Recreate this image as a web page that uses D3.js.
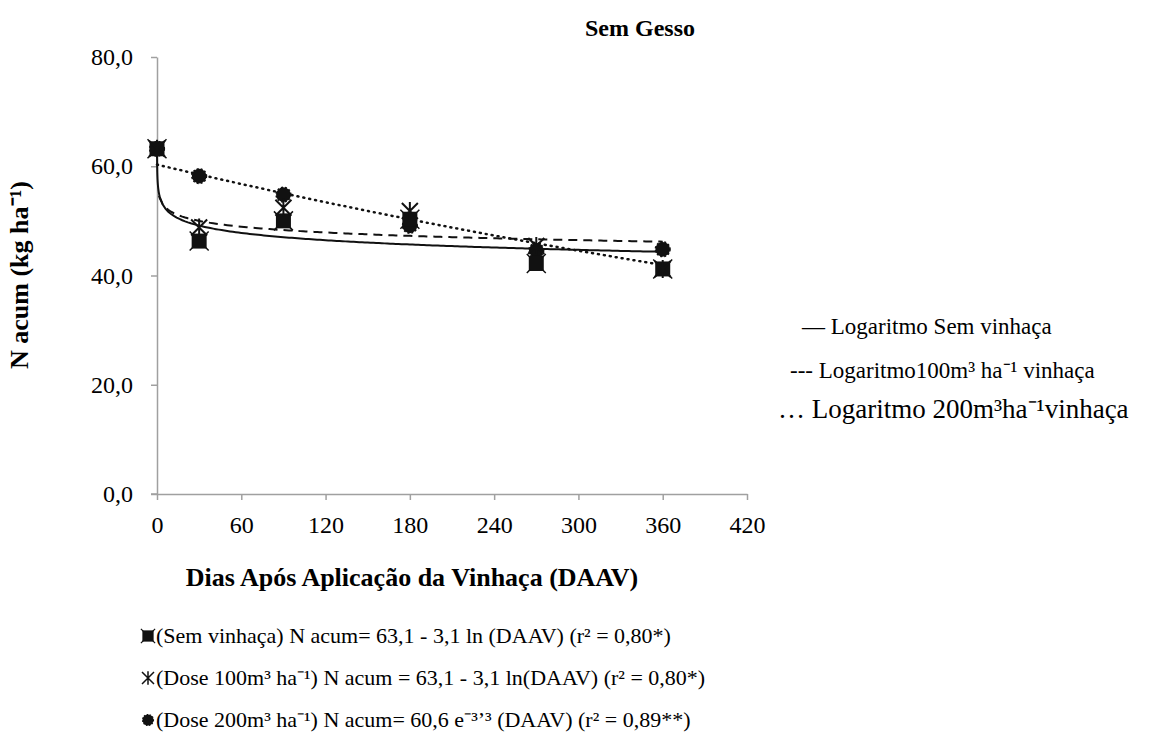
<!DOCTYPE html>
<html>
<head>
<meta charset="utf-8">
<script src="https://cdn.jsdelivr.net/npm/d3@7"></script>
<style>
  body { margin: 0; background: #fff; }
  svg text { font-family: "Liberation Serif", "Times New Roman", serif; fill: #000; }
</style>
</head>
<body>
<div id="chartArea"></div>
<script>
// data
var days = [0, 30, 90, 180, 270, 360];
var semVinhaca = [63.2, 46.3, 50.0, 50.3, 42.2, 41.2];
var dose100 = [63.2, 48.8, 52.4, 51.8, 45.4, 41.2];
var dose200 = [63.2, 58.2, 54.8, 49.1, 44.6, 44.8];

// trend coefficients: log  y = a + b ln(x), exp  y = a e^(k x)
var logSem = {a: 55.7, b: -1.93, from: 0.02};
var log100 = {a: 55.2, b: -1.53, from: 1.5};
var exp200 = {a: 60.3, k: -0.00101};

var xTicks = [0, 60, 120, 180, 240, 300, 360, 420];
var yTicks = [0, 20, 40, 60, 80];

var W = 1168, H = 737;
var margin = {left: 157, top: 57};
var w = 747 - 157, h = 494 - 57;

var svg = d3.select('#chartArea').append('svg')
    .attr('width', W)
    .attr('height', H);

var g = svg.append('g')
    .attr('transform', 'translate(' + margin.left + ',' + margin.top + ')');

var xScale = d3.scaleLinear().domain([0, 420]).range([0, w]);
var yScale = d3.scaleLinear().domain([0, 80]).range([h, 0]);

var fmt = function (d) { return d3.format('.1f')(d).replace('.', ','); };

var xAxis = g.append('g')
    .attr('transform', 'translate(0,' + h + ')')
    .call(d3.axisBottom(xScale).tickValues(xTicks).tickSize(6).tickSizeOuter(0));
var yAxis = g.append('g')
    .call(d3.axisLeft(yScale).tickValues(yTicks).tickSize(6).tickSizeOuter(0).tickFormat(fmt));

[xAxis, yAxis].forEach(function (ax) {
    ax.select('.domain').attr('stroke', '#a0a0a0').attr('stroke-width', 1.5);
    ax.selectAll('.tick line').attr('stroke', '#a0a0a0').attr('stroke-width', 1.5);
    ax.selectAll('.tick text')
        .style('font-family', '"Liberation Serif", serif')
        .style('font-size', '24px')
        .attr('fill', '#000');
});
xAxis.selectAll('.tick text').attr('y', 22).attr('dy', '0.71em');
yAxis.selectAll('.tick text').attr('x', -24);
// extend x axis a bit left of origin, like the original
xAxis.append('line').attr('x1', -6).attr('x2', 0).attr('stroke', '#a0a0a0').attr('stroke-width', 1.5);

// trendlines
function logPoints(c) {
    var xs = [c.from];
    for (var x = 0.05; x < 2; x += 0.05) if (x > c.from) xs.push(x);
    for (x = 2; x <= 360; x += 2) xs.push(x);
    return xs.map(function (x) { return [x, c.a + c.b * Math.log(x)]; });
}
function expPoints(c) {
    return d3.range(0, 362, 2).map(function (x) { return [x, c.a * Math.exp(c.k * x)]; });
}
var line = d3.line()
    .x(function (d) { return xScale(d[0]); })
    .y(function (d) { return yScale(d[1]); });

g.append('path').datum(logPoints(logSem)).attr('d', line)
    .attr('fill', 'none').attr('stroke', '#111').attr('stroke-width', 2);
g.append('path').datum(logPoints(log100)).attr('d', line)
    .attr('fill', 'none').attr('stroke', '#111').attr('stroke-width', 2)
    .attr('stroke-dasharray', '9,6');
g.append('path').datum(expPoints(exp200)).attr('d', line)
    .attr('fill', 'none').attr('stroke', '#111').attr('stroke-width', 2.5)
    .attr('stroke-dasharray', '1,5').attr('stroke-linecap', 'round');

// markers
function circleMarker(sel) {
    sel.append('path')
        .attr('d', d3.symbol().type(d3.symbolCircle).size(170))
        .attr('fill', '#111').attr('stroke', '#111').attr('stroke-width', 1.5)
        .attr('stroke-dasharray', '2,2');
}
function starMarker(sel) {
    sel.append('path')
        .attr('d', 'M-8,-8L8,8M-8,8L8,-8M0,-9L0,9')
        .attr('stroke', '#111').attr('stroke-width', 2).attr('fill', 'none');
}
function squareMarker(sel) {
    sel.append('rect').attr('x', -7.5).attr('y', -7.5).attr('width', 15).attr('height', 15)
        .attr('fill', '#111');
    sel.append('path').attr('d', 'M-9.5,-9.5L-6,-6M9.5,-9.5L6,-6M-9.5,9.5L-6,6M9.5,9.5L6,6')
        .attr('stroke', '#111').attr('stroke-width', 1.5);
}

function drawSeries(vals, marker) {
    g.append('g').selectAll('g')
        .data(days.map(function (d, i) { return [d, vals[i]]; }))
        .enter().append('g')
        .attr('transform', function (d) { return 'translate(' + xScale(d[0]) + ',' + yScale(d[1]) + ')'; })
        .call(marker);
}
drawSeries(dose200, circleMarker);
drawSeries(semVinhaca, squareMarker);
drawSeries(dose100, starMarker);

// title and axis titles
svg.append('text').attr('x', 640).attr('y', 36).attr('text-anchor', 'middle')
    .style('font-size', '24px').style('font-weight', 'bold').text('Sem Gesso');
svg.append('text').attr('x', 412).attr('y', 586).attr('text-anchor', 'middle')
    .style('font-size', '26px').style('font-weight', 'bold')
    .text('Dias Após Aplicação da Vinhaça (DAAV)');
svg.append('text').attr('transform', 'translate(28,275) rotate(-90)').attr('text-anchor', 'middle')
    .style('font-size', '26px').style('font-weight', 'bold')
    .text('N acum (kg ha⁻¹)');

// right-hand legend
var rightLegend = [
    {x: 802, y: 334, t: '— Logaritmo Sem vinhaça'},
    {x: 790, y: 378, t: '--- Logaritmo100m³ ha⁻¹ vinhaça'},
    {x: 778, y: 418, t: '… Logaritmo 200m³ha⁻¹vinhaça'}
];
svg.selectAll('.rl').data(rightLegend).enter().append('text')
    .attr('x', function (d) { return d.x; })
    .attr('y', function (d) { return d.y; })
    .style('font-size', function (d, i) { return i === 2 ? '27px' : '23px'; })
    .text(function (d) { return d.t; });

// bottom legend
var bottomLegend = [
    '(Sem vinhaça) N acum= 63,1 - 3,1 ln (DAAV) (r² = 0,80*)',
    '(Dose 100m³ ha⁻¹) N acum = 63,1 - 3,1 ln(DAAV) (r² = 0,80*)',
    '(Dose 200m³ ha⁻¹) N acum= 60,6 e⁻³’³ (DAAV) (r² = 0,89**)'
];
var bottomMarkers = [squareMarker, starMarker, circleMarker];
var bl = svg.selectAll('.bl').data(bottomLegend).enter().append('g')
    .attr('transform', function (d, i) { return 'translate(148,' + (636 + i * 42) + ')'; });
bl.append('text').attr('x', 8).attr('y', 7).style('font-size', '22px')
    .text(function (d) { return d; });
bl.each(function (d, i) {
    var m = d3.select(this).append('g').attr('transform', 'scale(0.75)');
    bottomMarkers[i](m);
});
</script>
</body>
</html>
